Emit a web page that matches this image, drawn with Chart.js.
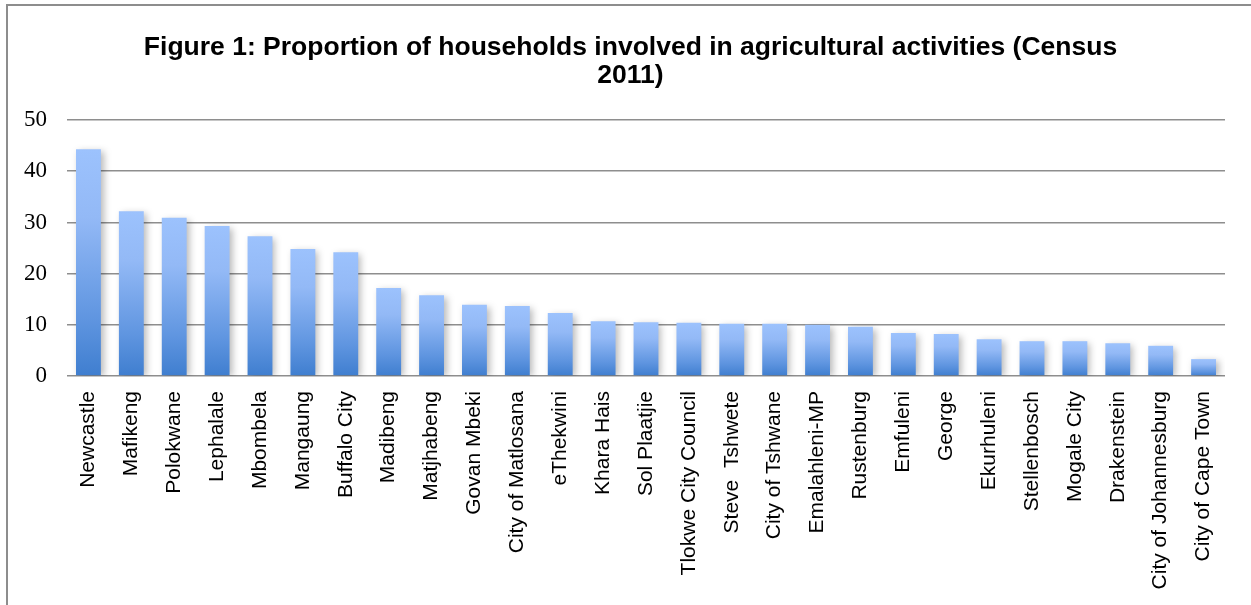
<!DOCTYPE html>
<html>
<head>
<meta charset="utf-8">
<script src="https://cdn.jsdelivr.net/npm/chart.js@4/dist/chart.umd.min.js"></script>
<style>
  html, body { margin: 0; padding: 0; background: #fff; overflow: hidden; }
  #frame { position: absolute; left: 6px; top: 4px; width: 1400px; height: 800px; border: 2px solid #8d8d8d; }
  #wrap { position: absolute; left: 0; top: 0; width: 1251px; height: 605px; }
</style>
</head>
<body>
<div id="frame"></div>
<div id="wrap"><canvas id="chart"></canvas></div>
<script>
// ---------- Data ----------
const municipalities = [
  "Newcastle", "Mafikeng", "Polokwane", "Lephalale", "Mbombela", "Mangaung",
  "Buffalo City", "Madibeng", "Matjhabeng", "Govan Mbeki", "City of Matlosana",
  "eThekwini", "Khara Hais", "Sol Plaatjie", "Tlokwe City Council", "Steve  Tshwete",
  "City of Tshwane", "Emalahleni-MP", "Rustenburg", "Emfuleni", "George",
  "Ekurhuleni", "Stellenbosch", "Mogale City", "Drakenstein",
  "City of Johannesburg", "City of Cape Town"
];
const householdShare = [
  44.3, 32.2, 30.9, 29.3, 27.3, 24.8,
  24.2, 17.2, 15.8, 13.9, 13.7,
  12.3, 10.7, 10.5, 10.4, 10.2,
  10.2, 10.0, 9.6, 8.4, 8.2,
  7.2, 6.8, 6.8, 6.4,
  5.9, 3.3
];
const yTicks = [0, 10, 20, 30, 40, 50];
const titleLines = [
  "Figure 1: Proportion of households involved in agricultural activities (Census",
  "2011)"
];

// ---------- Bar gradient (light top -> dark bottom, per bar) ----------
function barGradient(ctx) {
  const chart = ctx.chart;
  if (!chart.chartArea || ctx.type !== "data") return "#7aa6e6";
  const y = chart.scales.y;
  const top = y.getPixelForValue(ctx.raw);
  const bottom = y.getPixelForValue(0);
  const g = chart.ctx.createLinearGradient(0, top, 0, bottom);
  g.addColorStop(0, "#9cc2fd");
  g.addColorStop(0.3, "#93b9f6");
  g.addColorStop(0.75, "#5f95e0");
  g.addColorStop(1, "#3f7ecf");
  return g;
}

// ---------- Soft shadow behind bars ----------
const barShadow = {
  id: "barShadow",
  beforeDatasetsDraw(chart) {
    const c = chart.ctx;
    c.save();
    c.shadowColor = "rgba(0,0,0,0.28)";
    c.shadowBlur = 7;
    c.shadowOffsetX = 3;
    c.shadowOffsetY = 2;
  },
  afterDatasetsDraw(chart) {
    chart.ctx.restore();
  }
};

new Chart(document.getElementById("chart"), {
  type: "bar",
  data: {
    labels: municipalities,
    datasets: [{
      data: householdShare,
      backgroundColor: barGradient,
      borderWidth: 0,
      barPercentage: 0.58,
      categoryPercentage: 1
    }]
  },
  options: {
    responsive: true,
    maintainAspectRatio: false,
    animation: false,
    layout: { padding: { left: 10, right: 0, top: 0, bottom: 0 } },
    plugins: {
      legend: { display: false },
      tooltip: { enabled: false },
      title: {
        display: true,
        text: titleLines,
        color: "#000",
        font: { family: "'Liberation Sans', Arial, sans-serif", size: 26.5, weight: "bold", lineHeight: 1.04 },
        padding: { top: 34, bottom: 31 }
      }
    },
    scales: {
      x: {
        grid: { display: false, drawTicks: false },
        border: { display: false },
        ticks: {
          autoSkip: false,
          minRotation: 90,
          maxRotation: 90,
          padding: 15,
          color: "#000",
          font: { family: "'Liberation Sans', Arial, sans-serif", size: 21 }
        },
        afterFit(scale) { scale.height = 229; }
      },
      y: {
        min: 0,
        max: 50,
        afterBuildTicks(scale) { scale.ticks = yTicks.map(v => ({ value: v })); },
        grid: { color: "#8e8e8e", lineWidth: 1.6, drawTicks: false },
        border: { display: false },
        ticks: {
          padding: 20,
          color: "#000",
          font: { family: "'Liberation Serif', 'Times New Roman', serif", size: 23 }
        },
        afterFit(scale) { scale.width = 57; }
      },
      // empty right-hand spacer so the title centres on the whole canvas
      spacer: {
        position: "right",
        grid: { display: false, drawTicks: false },
        border: { display: false },
        ticks: { display: false },
        afterFit(scale) { scale.width = 26; }
      }
    }
  },
  plugins: [barShadow]
});
</script>
</body>
</html>
